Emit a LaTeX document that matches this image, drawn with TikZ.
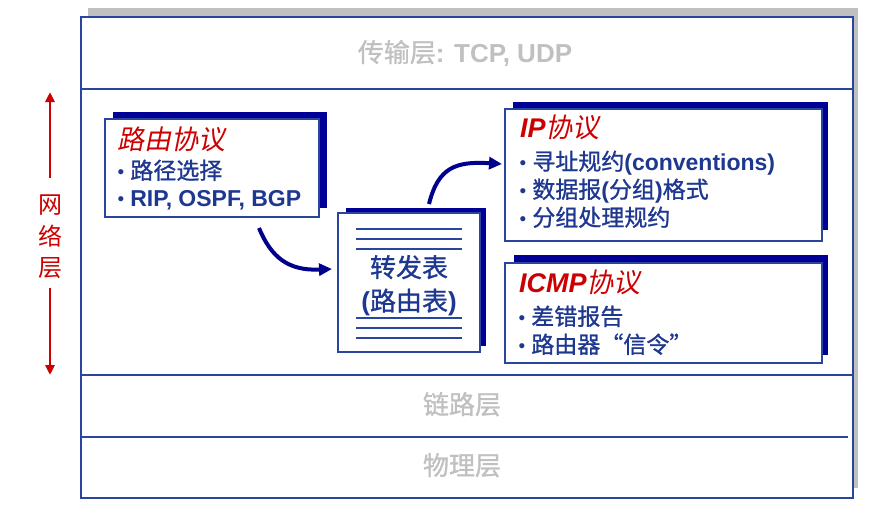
\documentclass[tikz,border=0pt]{standalone}
\usepackage{fontspec}
\setmainfont{Liberation Sans}
\newfontfamily\cjk[FakeBold=1]{Noto Sans CJK SC}
\newfontfamily\cjkplain{Noto Sans CJK SC}
\newfontfamily\cjkit[FakeSlant=0.2]{Noto Sans CJK SC}
\usetikzlibrary{arrows.meta}
\definecolor{boxblue}{RGB}{40,70,160}
\definecolor{navyshadow}{RGB}{0,0,150}
\definecolor{textblue}{RGB}{30,55,145}
\definecolor{arrownavy}{RGB}{0,0,140}
\definecolor{titlered}{RGB}{204,0,0}
\definecolor{layergray}{RGB}{192,192,192}
\newcommand{\bul}{{\fontsize{19}{19}\selectfont\raisebox{1pt}{•}}\hspace{6pt}}
\begin{document}
\begin{tikzpicture}[x=1pt,y=-1pt,
  shadowbox/.style={fill=navyshadow,draw=none,inner sep=0pt,outer sep=0pt,anchor=north west},
  whitebox/.style={fill=white,draw=boxblue,line width=1.6pt,inner sep=0pt,outer sep=0pt,anchor=north west},
  sepline/.style={draw=boxblue,line width=1.8pt},
  tblline/.style={draw=boxblue,line width=2pt},
  bline/.style={anchor=west,inner sep=0pt,text height=20pt,text depth=4pt,text=textblue,font=\fontsize{23}{23}\selectfont},
  titletext/.style={anchor=west,inner sep=0pt,text height=23pt,text depth=4pt,text=titlered,font=\fontsize{27}{27}\selectfont},
  layertext/.style={inner sep=0pt,text=layergray,font=\fontsize{26}{26}\selectfont,text height=22pt,text depth=4pt},
  fwdtext/.style={inner sep=0pt,text=textblue,font=\fontsize{26}{26}\selectfont,text height=22pt,text depth=4pt},
  flow/.style={draw=arrownavy,line width=4pt,-{Triangle[length=13pt,width=12pt]}},
  redarrow/.style={draw=titlered,line width=2.8pt,-{Triangle[length=10pt,width=9pt]}}
]
\useasboundingbox (0,0) rectangle (895,517);
% outer frame
\node[fill=layergray,draw=none,inner sep=0pt,anchor=north west,minimum width=770pt,minimum height=480pt] (outerS) at (88,8) {};
\node[fill=white,draw=boxblue,line width=2pt,inner sep=0pt,anchor=north west,minimum width=772pt,minimum height=481pt] (outer) at (80,16) {};
\draw[sepline] (80,89) -- (852,89);
\draw[sepline] (80,375) -- (852,375);
\draw[sepline] (80,437) -- (848,437);
% layer labels
\node[layertext] (tl) at (465,53) {{\cjk 传输层}\textbf{: TCP, UDP}};
\node[layertext] (ll) at (462,405) {\cjk 链路层};
\node[layertext] (pl) at (462,466) {\cjk 物理层};
% network layer label
\node[inner sep=0pt,text=titlered,font=\fontsize{24}{31.5}\selectfont,align=center] (net) at (50,237) {\cjkplain 网\\\cjkplain 络\\\cjkplain 层};
\coordinate (nup1) at (50,178);
\coordinate (nup2) at (50,92);
\coordinate (ndn1) at (50,288);
\coordinate (ndn2) at (50,375);
\draw[redarrow] (nup1) -- (nup2);
\draw[redarrow] (ndn1) -- (ndn2);
% routing protocol box
\node[shadowbox,minimum width=214pt,minimum height=96pt] (rpS) at (113,112) {};
\node[whitebox,minimum width=214pt,minimum height=98pt] (rp) at (105,119) {};
\node[titletext] (rpt) at (117,140) {\cjkit 路由协议};
\node[bline] (rp1) at (117.5,171) {\bul{\cjk 路径选择}};
\node[bline] (rp2) at (117.5,198) {\bul\textbf{RIP, OSPF, BGP}};
% forwarding table box
\node[shadowbox,minimum width=140pt,minimum height=138pt] (ftS) at (346,208) {};
\node[whitebox,minimum width=142pt,minimum height=139pt] (ft) at (338,213) {};
\draw[tblline] (356,228.5) -- (462,228.5);
\draw[tblline] (356,238.5) -- (462,238.5);
\draw[tblline] (356,248.5) -- (462,248.5);
\draw[tblline] (356,318) -- (462,318);
\draw[tblline] (356,328) -- (462,328);
\draw[tblline] (356,338) -- (462,338);
\node[fwdtext] (ft1) at (409,268) {\cjk 转发表};
\node[fwdtext] (ft2) at (409,301.5) {\textbf{(}{\cjk 路由表}\textbf{)}};
% IP box
\node[shadowbox,minimum width=315pt,minimum height=128pt] (ipS) at (513,102) {};
\node[whitebox,minimum width=317pt,minimum height=132pt] (ip) at (505,109) {};
\node[titletext] (ipt) at (520,128) {\textbf{\textit{IP}}{\cjkit 协议}};
\node[bline] (ip1) at (519.5,162) {\bul{\cjk 寻址规约}\textbf{(conventions)}};
\node[bline] (ip2) at (519.5,190) {\bul{\cjk 数据报}\textbf{(}{\cjk 分组}\textbf{)}{\cjk 格式}};
\node[bline] (ip3) at (519.5,218) {\bul{\cjk 分组处理规约}};
% ICMP box
\node[shadowbox,minimum width=314pt,minimum height=100pt] (icS) at (514,255) {};
\node[whitebox,minimum width=317pt,minimum height=100pt] (ic) at (505,263) {};
\node[titletext] (ict) at (519,283) {\textbf{\textit{ICMP}}{\cjkit 协议}};
\node[bline] (ic1) at (518.5,317) {\bul{\cjk 差错报告}};
\node[bline] (ic2) at (518.5,345) {\bul{\cjk 路由器“信令”}};
% arrows
\coordinate (a1s) at (259,228);
\coordinate (a1e) at (332,269);
\coordinate (a2s) at (429,204);
\coordinate (a2e) at (502,164);
\draw[flow] (a1s) .. controls (271,257) and (288,271) .. (a1e);
\draw[flow] (a2s) .. controls (438,168) and (455,161) .. (a2e);
\end{tikzpicture}
\end{document}
